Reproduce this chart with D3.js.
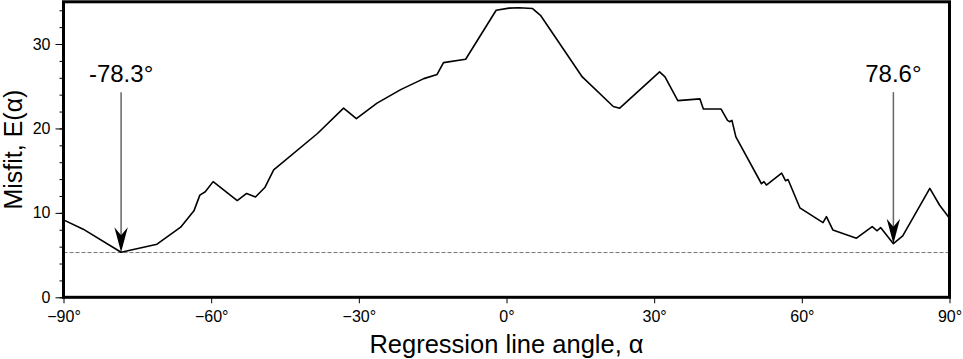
<!DOCTYPE html>
<html>
<head>
<meta charset="utf-8">
<script src="https://cdn.jsdelivr.net/npm/d3@7"></script>
<style>
  html, body { margin: 0; padding: 0; background: #fff; }
  svg { display: block; }
  text { font-family: "Liberation Sans", Arial, Helvetica, sans-serif; fill: #000; }
</style>
</head>
<body>
<svg id="chart" width="963" height="359"></svg>
<script>
// ---- data ----
const angles = [-90, -86.0, -78.3, -71.0, -66.2, -63.5, -62.3, -61.2, -59.6, -54.7,
  -52.8, -51.0, -49.1, -47.3, -38.4, -33.1, -30.5, -26.3, -21.5, -16.8,
  -14.1, -12.8, -8.3, -2.1, 0.5, 2.5, 5.3, 6.9, 15.4, 21.7,
  23.0, 31.1, 32.2, 34.8, 39.3, 40.0, 43.6, 44.9, 45.3, 45.8,
  46.6, 51.8, 52.3, 52.8, 55.9, 56.7, 57.2, 59.6, 64.3, 65.0,
  66.3, 71.1, 74.3, 75.3, 76.0, 78.6, 80.5, 86.0, 88.0, 90];
const misfit = [9.17, 8.07, 5.34, 6.29, 8.3, 10.24, 12.1, 12.5, 13.7, 11.46,
  12.3, 11.88, 13.0, 15.1, 19.4, 22.4, 21.15, 23.0, 24.6, 25.9,
  26.4, 27.8, 28.2, 34.0, 34.25, 34.3, 34.2, 33.4, 26.1, 22.6,
  22.4, 26.7, 26.1, 23.3, 23.5, 22.3, 22.3, 20.95, 20.8, 20.95,
  19.0, 13.45, 13.7, 13.3, 14.7, 13.8, 13.95, 10.6, 8.85, 9.56,
  7.98, 7.0, 8.37, 7.88, 8.26, 6.35, 7.27, 12.9, 10.9, 9.37];
const xTicks = [-90, -60, -30, 0, 30, 60, 90];
const yTicks = [0, 10, 20, 30];
const yMinorTicks = [0, 2, 4, 6, 8, 10, 12, 14, 16, 18, 20, 22, 24, 26, 28, 30, 32, 34];
const thresholdValue = [5.3];
const annotAngles = [-78.3, 78.6];
const annotMinima = [5.34, 6.35];
const annotLabels = ["-78.3°", "78.6°"];
const annotTextLevel = 25.5;
const annotLineTop = 24.3;
const xLabel = "Regression line angle, α";
const yLabel = "Misfit, E(α)";

// ---- layout ----
const svg = d3.select("#chart");
const x = d3.scaleLinear().domain([-90, 90]).range([63.5, 949.5]);
const y = d3.scaleLinear().domain([0, 35]).range([297.3, 1.8]);

// threshold dashed line
svg.selectAll("line.thr").data(thresholdValue).join("line")
  .attr("x1", x(-90)).attr("x2", x(90))
  .attr("y1", d => y(d)).attr("y2", d => y(d))
  .attr("stroke", "#777").attr("stroke-width", 1)
  .attr("stroke-dasharray", "4,2");

// curve
const pts = angles.map((a, i) => [a, misfit[i]]);
svg.append("path")
  .datum(pts)
  .attr("fill", "none")
  .attr("stroke", "#000")
  .attr("stroke-width", 1.6)
  .attr("stroke-linejoin", "round")
  .attr("d", d3.line().x(d => x(d[0])).y(d => y(d[1])));

// annotations
const ann = annotAngles.map((a, i) => ({a, m: annotMinima[i], t: annotLabels[i]}));
svg.selectAll("line.ann").data(ann).join("line")
  .attr("x1", d => x(d.a)).attr("x2", d => x(d.a))
  .attr("y1", y(annotLineTop)).attr("y2", d => y(d.m) - 10)
  .attr("stroke", "#666").attr("stroke-width", 1.5);
svg.selectAll("path.head").data(ann).join("path")
  .attr("fill", "#000")
  .attr("d", d => {
    const tx = x(d.a), ty = y(d.m);
    return `M${tx},${ty} L${tx - 6.7},${ty - 25} L${tx},${ty - 17} L${tx + 6.7},${ty - 25} Z`;
  });
svg.selectAll("text.ann").data(ann).join("text")
  .attr("x", d => x(d.a)).attr("y", y(annotTextLevel))
  .attr("text-anchor", "middle")
  .attr("font-size", 24)
  .text(d => d.t);

// axes
const fmtDeg = d => (d < 0 ? "\u2212" + Math.abs(d) : d) + "°";
const xAxis = svg.append("g").attr("transform", `translate(0,${y(0)})`)
  .call(d3.axisBottom(x).tickValues(xTicks).tickSize(6).tickPadding(7).tickFormat(fmtDeg));
xAxis.select(".domain").remove();
xAxis.selectAll("text").attr("font-size", 16).attr("font-family", "Liberation Sans, Arial, sans-serif");
xAxis.selectAll(".tick line").attr("stroke-width", 1);

const yMinor = svg.append("g").attr("transform", `translate(${x(-90)},0)`)
  .call(d3.axisLeft(y).tickValues(yMinorTicks).tickSize(4).tickFormat(""));
yMinor.select(".domain").remove();

const yAxis = svg.append("g").attr("transform", `translate(${x(-90)},0)`)
  .call(d3.axisLeft(y).tickValues(yTicks).tickSize(8).tickPadding(5).tickFormat(d3.format("d")));
yAxis.select(".domain").remove();
yAxis.selectAll("text").attr("font-size", 16).attr("font-family", "Liberation Sans, Arial, sans-serif");

// frame
svg.append("rect")
  .attr("x", x(-90)).attr("y", y(35))
  .attr("width", x(90) - x(-90)).attr("height", y(0) - y(35))
  .attr("fill", "none").attr("stroke", "#000").attr("stroke-width", 3);

// axis labels
svg.append("text")
  .attr("x", x(0)).attr("y", 353)
  .attr("text-anchor", "middle").attr("font-size", 25.5)
  .text(xLabel);
svg.append("text")
  .attr("transform", `translate(22,${(y(0) + y(35)) / 2}) rotate(-90)`)
  .attr("text-anchor", "middle").attr("font-size", 25)
  .text(yLabel);
</script>
</body>
</html>
